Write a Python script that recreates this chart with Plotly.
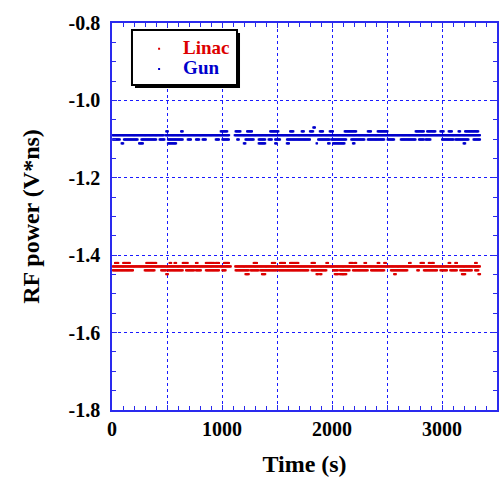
import numpy as np
import plotly.graph_objects as go

STEP = 5  # seconds between acquisitions

# ---- Data: time spans (s) during which samples sit on each quantised level ----
gun_level_107 = -1.070
gun_spans_107 = [(1830, 1845)]
gun_level_108 = -1.080
gun_spans_108 = [(493, 508), (628, 643), (988, 1048), (1123, 1168), (1228, 1273), (1438, 1513),
                 (1619, 1649), (1724, 1748), (1799, 1829), (1889, 1919), (1979, 2009), (2115, 2220),
                 (2325, 2355), (2415, 2505), (2760, 2835), (2865, 2940), (2985, 3015), (3060, 3090),
                 (3150, 3165), (3210, 3331)]
gun_level_109 = -1.090
gun_spans_109 = [(5, 470), (485, 1065), (1115, 3345)]
gun_level_110 = -1.101
gun_spans_110 = [(6, 72), (108, 237), (267, 402), (432, 478), (508, 643), (688, 718), (763, 793),
                 (823, 853), (943, 973), (1003, 1063), (1138, 1153), (1213, 1288), (1333, 1393),
                 (1423, 1453), (1483, 1528), (1590, 1800), (1874, 1979), (1994, 2130), (2175, 2295),
                 (2325, 2475), (2505, 2565), (2625, 2760), (2790, 2835), (2850, 2895), (3000, 3106),
                 (3121, 3241), (3286, 3346)]
gun_level_111 = -1.111
gun_spans_111 = [(87, 102), (246, 282), (508, 583), (1198, 1213), (1333, 1393), (1483, 1498),
                 (1589, 1613), (1859, 1868), (1964, 1979), (2009, 2115), (2190, 2205), (3196, 3211)]

linac_level_142 = -1.420
linac_spans_142 = [(27, 57), (102, 162), (312, 402), (523, 538), (568, 583), (643, 688), (763, 778),
                   (853, 928), (943, 973), (1018, 1063), (1288, 1318), (1453, 1483), (1528, 1574),
                   (1619, 1694), (1814, 1844), (1949, 1964), (2160, 2190), (2205, 2220), (2295, 2310),
                   (2415, 2430), (2475, 2490), (2700, 2715), (2805, 2835), (2880, 2925), (3060, 3075),
                   (3121, 3136), (3301, 3316)]
linac_level_143 = -1.429
linac_spans_143 = [(5, 1080), (1120, 3345)]
linac_level_144 = -1.439
linac_spans_144 = [(6, 192), (297, 387), (447, 493), (508, 643), (673, 748), (763, 808), (853, 973),
                   (1003, 1033), (1123, 1243), (1258, 1333), (1348, 1498), (1515, 1785), (1814, 1949),
                   (2009, 2055), (2070, 2160), (2190, 2325), (2355, 2475), (2535, 2685), (2775, 2790),
                   (2835, 2955), (2985, 3045), (3075, 3136), (3166, 3271), (3301, 3331)]
linac_level_145 = -1.449
linac_spans_145 = [(493, 508), (1213, 1243), (1363, 1393), (1859, 1874), (1889, 1904), (2025, 2055),
                   (2070, 2130), (2565, 2580), (3181, 3211), (3331, 3346)]

y_tick_vals = [-1.8, -1.6, -1.4, -1.2, -1.0, -0.8]
y_tick_text = ["-1.8", "-1.6", "-1.4", "-1.2", "-1.0", "-0.8"]
x_tick_vals = [0, 500, 1000, 1500, 2000, 2500, 3000, 3500]
x_tick_text = ["0", "", "1000", "", "2000", "", "3000", ""]


def expand(groups):
    xs, ys = [], []
    for level, spans in groups:
        for a, b in spans:
            t = np.arange(a, b + 1, STEP)
            xs.append(t)
            ys.append(np.full(t.shape, level))
    return np.concatenate(xs), np.concatenate(ys)


gun_x, gun_y = expand([(gun_level_107, gun_spans_107), (gun_level_108, gun_spans_108),
                       (gun_level_109, gun_spans_109), (gun_level_110, gun_spans_110),
                       (gun_level_111, gun_spans_111)])
lin_x, lin_y = expand([(linac_level_142, linac_spans_142), (linac_level_143, linac_spans_143),
                       (linac_level_144, linac_spans_144), (linac_level_145, linac_spans_145)])

RED = "#dd0000"
BLUE = "#0000cc"
AXIS_BLUE = "#2a2aee"
GRID_BLUE = "#1a1aff"
FONT = "Liberation Serif"

fig = go.Figure()
fig.add_trace(go.Scatter(x=lin_x, y=lin_y, mode="markers",
                         name='<span style="color:%s;font-size:19px">Linac</span>' % RED,
                         marker=dict(color=RED, size=2, symbol="square", line=dict(width=0))))
fig.add_trace(go.Scatter(x=gun_x, y=gun_y, mode="markers",
                         name='<span style="color:%s;font-size:19px">Gun</span>' % BLUE,
                         marker=dict(color=BLUE, size=2, symbol="square", line=dict(width=0))))

axis_common = dict(
    automargin=False,
    showline=True, linecolor=AXIS_BLUE, linewidth=1.5, mirror="allticks",
    ticks="inside", ticklen=5, tickcolor=AXIS_BLUE, tickwidth=1,
    showgrid=True, gridcolor=GRID_BLUE, gridwidth=1, griddash="dot",
    zeroline=False,
    tickfont=dict(family=FONT, size=20, color="black", weight="bold"),
)

fig.update_xaxes(range=[0, 3500], tickmode="array", tickvals=x_tick_vals, ticktext=x_tick_text,
                 minor=dict(dtick=100, ticks="inside", ticklen=4, tickcolor=AXIS_BLUE, showgrid=False),
                 title=dict(text="Time (s)", font=dict(family=FONT, size=24, color="black", weight="bold"),
                            standoff=20),
                 **axis_common)
fig.update_yaxes(range=[-1.8, -0.8], tickmode="array", tickvals=y_tick_vals, ticktext=y_tick_text,
                 minor=dict(dtick=0.05, ticks="inside", ticklen=4, tickcolor=AXIS_BLUE, showgrid=False),
                 ticklabelstandoff=6,
                 title=dict(text="RF power (V*ns)", font=dict(family=FONT, size=24, color="black", weight="bold"),
                            standoff=22),
                 **axis_common)

# legend frame with drop shadow
fig.add_shape(type="rect", xref="paper", yref="paper", x0=0.0597, x1=0.3325, y0=0.832, y1=0.9742,
              fillcolor="black", line=dict(width=0), layer="above")
fig.add_shape(type="rect", xref="paper", yref="paper", x0=0.0519, x1=0.3247, y0=0.8398, y1=0.9819,
              fillcolor="white", line=dict(color="black", width=2), layer="above")

fig.update_layout(
    width=499, height=477,
    margin=dict(l=112, r=2, t=23, b=67),
    plot_bgcolor="white", paper_bgcolor="white",
    font=dict(family=FONT, size=19, color="black", weight="bold"),
    showlegend=True,
    legend=dict(x=0.06, y=0.973, xanchor="left", yanchor="top",
                bgcolor="rgba(0,0,0,0)", borderwidth=0, itemwidth=38,
                font=dict(family=FONT, size=13.4, weight="bold")),
)

fig.write_html("out.html", config={"displayModeBar": False},
               post_script="document.body.style.margin='0';document.body.style.overflow='hidden';")
